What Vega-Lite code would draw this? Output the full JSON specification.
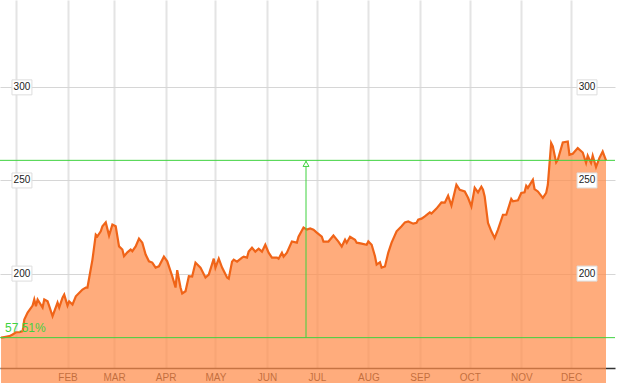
{
  "$schema": "https://vega.github.io/schema/vega-lite/v6.json",
  "width": 615,
  "height": 368,
  "autosize": "none",
  "padding": {"left": 0, "top": 0, "right": 8, "bottom": 15},
  "background": "white",
  "config": {"view": {"stroke": null}, "font": "Liberation Sans"},
  "datasets": {
    "prices": [
      {"date": "2012-12-23", "price": 165.6},
      {"date": "2012-12-25", "price": 165.9},
      {"date": "2012-12-28", "price": 166.4},
      {"date": "2012-12-30", "price": 167.3},
      {"date": "2013-01-01", "price": 168.5},
      {"date": "2013-01-03", "price": 168.5},
      {"date": "2013-01-05", "price": 169.1},
      {"date": "2013-01-06", "price": 175.3},
      {"date": "2013-01-08", "price": 179.1},
      {"date": "2013-01-11", "price": 182.8},
      {"date": "2013-01-12", "price": 186.1},
      {"date": "2013-01-13", "price": 182.5},
      {"date": "2013-01-14", "price": 186.1},
      {"date": "2013-01-17", "price": 181.8},
      {"date": "2013-01-18", "price": 186.1},
      {"date": "2013-01-20", "price": 185.1},
      {"date": "2013-01-21", "price": 182.5},
      {"date": "2013-01-23", "price": 177.1},
      {"date": "2013-01-26", "price": 184.4},
      {"date": "2013-01-27", "price": 181.8},
      {"date": "2013-01-29", "price": 187.1},
      {"date": "2013-01-30", "price": 188.7},
      {"date": "2013-02-01", "price": 182.8},
      {"date": "2013-02-02", "price": 185.1},
      {"date": "2013-02-04", "price": 183.4},
      {"date": "2013-02-06", "price": 187.8},
      {"date": "2013-02-09", "price": 190.5},
      {"date": "2013-02-10", "price": 191.4},
      {"date": "2013-02-12", "price": 192.5},
      {"date": "2013-02-13", "price": 192.5},
      {"date": "2013-02-16", "price": 207.5},
      {"date": "2013-02-18", "price": 220.9},
      {"date": "2013-02-19", "price": 220.0},
      {"date": "2013-02-21", "price": 222.7},
      {"date": "2013-02-22", "price": 225.4},
      {"date": "2013-02-24", "price": 227.5},
      {"date": "2013-02-26", "price": 220.4},
      {"date": "2013-02-28", "price": 226.3},
      {"date": "2013-03-02", "price": 225.4},
      {"date": "2013-03-04", "price": 214.6},
      {"date": "2013-03-06", "price": 212.9},
      {"date": "2013-03-07", "price": 209.3},
      {"date": "2013-03-09", "price": 211.4},
      {"date": "2013-03-11", "price": 212.9},
      {"date": "2013-03-12", "price": 212.0},
      {"date": "2013-03-14", "price": 214.6},
      {"date": "2013-03-16", "price": 218.8},
      {"date": "2013-03-18", "price": 216.6},
      {"date": "2013-03-20", "price": 210.2},
      {"date": "2013-03-22", "price": 206.6},
      {"date": "2013-03-24", "price": 205.9},
      {"date": "2013-03-26", "price": 203.2},
      {"date": "2013-03-28", "price": 203.9},
      {"date": "2013-03-31", "price": 209.1},
      {"date": "2013-04-02", "price": 206.6},
      {"date": "2013-04-05", "price": 198.6},
      {"date": "2013-04-07", "price": 192.5},
      {"date": "2013-04-08", "price": 201.8},
      {"date": "2013-04-10", "price": 192.5},
      {"date": "2013-04-11", "price": 189.3},
      {"date": "2013-04-13", "price": 190.5},
      {"date": "2013-04-15", "price": 198.6},
      {"date": "2013-04-17", "price": 198.4},
      {"date": "2013-04-19", "price": 205.9},
      {"date": "2013-04-22", "price": 203.2},
      {"date": "2013-04-25", "price": 197.9},
      {"date": "2013-04-27", "price": 199.5},
      {"date": "2013-04-30", "price": 208.0},
      {"date": "2013-05-01", "price": 203.2},
      {"date": "2013-05-03", "price": 208.0},
      {"date": "2013-05-05", "price": 203.2},
      {"date": "2013-05-08", "price": 197.9},
      {"date": "2013-05-09", "price": 197.3},
      {"date": "2013-05-11", "price": 206.4},
      {"date": "2013-05-12", "price": 207.5},
      {"date": "2013-05-14", "price": 206.4},
      {"date": "2013-05-17", "price": 208.6},
      {"date": "2013-05-18", "price": 209.1},
      {"date": "2013-05-20", "price": 208.6},
      {"date": "2013-05-21", "price": 211.8},
      {"date": "2013-05-23", "price": 213.9},
      {"date": "2013-05-25", "price": 211.8},
      {"date": "2013-05-27", "price": 213.4},
      {"date": "2013-05-29", "price": 211.8},
      {"date": "2013-05-31", "price": 215.5},
      {"date": "2013-06-02", "price": 211.2},
      {"date": "2013-06-04", "price": 208.6},
      {"date": "2013-06-07", "price": 208.6},
      {"date": "2013-06-08", "price": 208.0},
      {"date": "2013-06-10", "price": 211.2},
      {"date": "2013-06-11", "price": 209.1},
      {"date": "2013-06-13", "price": 211.2},
      {"date": "2013-06-16", "price": 217.2},
      {"date": "2013-06-19", "price": 216.6},
      {"date": "2013-06-20", "price": 219.8},
      {"date": "2013-06-23", "price": 224.7},
      {"date": "2013-06-25", "price": 223.6},
      {"date": "2013-06-27", "price": 224.2},
      {"date": "2013-06-29", "price": 223.6},
      {"date": "2013-07-01", "price": 222.0},
      {"date": "2013-07-04", "price": 219.8},
      {"date": "2013-07-05", "price": 217.2},
      {"date": "2013-07-08", "price": 217.2},
      {"date": "2013-07-11", "price": 220.4},
      {"date": "2013-07-14", "price": 217.2},
      {"date": "2013-07-16", "price": 214.5},
      {"date": "2013-07-18", "price": 218.2},
      {"date": "2013-07-19", "price": 216.6},
      {"date": "2013-07-21", "price": 219.8},
      {"date": "2013-07-24", "price": 218.2},
      {"date": "2013-07-25", "price": 216.6},
      {"date": "2013-07-28", "price": 216.1},
      {"date": "2013-07-31", "price": 215.5},
      {"date": "2013-08-01", "price": 217.3},
      {"date": "2013-08-03", "price": 215.5},
      {"date": "2013-08-05", "price": 209.3},
      {"date": "2013-08-06", "price": 204.8},
      {"date": "2013-08-08", "price": 206.1},
      {"date": "2013-08-09", "price": 203.2},
      {"date": "2013-08-11", "price": 203.8},
      {"date": "2013-08-13", "price": 211.3},
      {"date": "2013-08-15", "price": 216.6},
      {"date": "2013-08-18", "price": 222.7},
      {"date": "2013-08-21", "price": 225.4},
      {"date": "2013-08-23", "price": 227.5},
      {"date": "2013-08-25", "price": 228.0},
      {"date": "2013-08-28", "price": 226.8},
      {"date": "2013-08-30", "price": 227.3},
      {"date": "2013-08-31", "price": 228.9},
      {"date": "2013-09-02", "price": 229.5},
      {"date": "2013-09-04", "price": 230.7},
      {"date": "2013-09-07", "price": 232.9},
      {"date": "2013-09-08", "price": 232.2},
      {"date": "2013-09-11", "price": 234.9},
      {"date": "2013-09-14", "price": 238.2},
      {"date": "2013-09-16", "price": 238.1},
      {"date": "2013-09-18", "price": 241.8},
      {"date": "2013-09-20", "price": 236.5},
      {"date": "2013-09-23", "price": 247.7},
      {"date": "2013-09-25", "price": 245.0},
      {"date": "2013-09-28", "price": 244.1},
      {"date": "2013-09-30", "price": 240.7},
      {"date": "2013-10-02", "price": 236.1},
      {"date": "2013-10-04", "price": 246.1},
      {"date": "2013-10-06", "price": 243.6},
      {"date": "2013-10-08", "price": 246.6},
      {"date": "2013-10-09", "price": 245.0},
      {"date": "2013-10-10", "price": 241.4},
      {"date": "2013-10-12", "price": 227.2},
      {"date": "2013-10-14", "price": 222.7},
      {"date": "2013-10-16", "price": 219.1},
      {"date": "2013-10-18", "price": 223.6},
      {"date": "2013-10-21", "price": 231.6},
      {"date": "2013-10-23", "price": 231.6},
      {"date": "2013-10-26", "price": 240.1},
      {"date": "2013-10-27", "price": 238.8},
      {"date": "2013-10-30", "price": 239.3},
      {"date": "2013-11-01", "price": 243.3},
      {"date": "2013-11-03", "price": 243.6},
      {"date": "2013-11-04", "price": 247.2},
      {"date": "2013-11-05", "price": 246.0},
      {"date": "2013-11-08", "price": 250.4},
      {"date": "2013-11-09", "price": 245.4},
      {"date": "2013-11-11", "price": 244.1},
      {"date": "2013-11-14", "price": 240.6},
      {"date": "2013-11-16", "price": 243.3},
      {"date": "2013-11-17", "price": 247.7},
      {"date": "2013-11-19", "price": 270.1},
      {"date": "2013-11-20", "price": 268.3},
      {"date": "2013-11-22", "price": 259.7},
      {"date": "2013-11-23", "price": 261.1},
      {"date": "2013-11-26", "price": 270.4},
      {"date": "2013-11-29", "price": 270.9},
      {"date": "2013-11-30", "price": 263.8},
      {"date": "2013-12-02", "price": 264.3},
      {"date": "2013-12-05", "price": 267.4},
      {"date": "2013-12-08", "price": 265.0},
      {"date": "2013-12-10", "price": 259.4},
      {"date": "2013-12-11", "price": 263.3},
      {"date": "2013-12-13", "price": 259.4},
      {"date": "2013-12-14", "price": 263.3},
      {"date": "2013-12-16", "price": 257.2},
      {"date": "2013-12-18", "price": 262.0},
      {"date": "2013-12-20", "price": 265.6},
      {"date": "2013-12-22", "price": 260.8}
    ],
    "levels": [{"level": 165.6}, {"level": 260.8}],
    "ticks": [{"tick": 200}, {"tick": 250}, {"tick": 300}]
  },
  "layer": [
    {
      "data": {"name": "prices"},
      "mark": {"type": "area", "color": "#ff8c4a", "opacity": 0.72},
      "encoding": {
        "x": {
          "field": "date", "type": "temporal", "title": null,
          "scale": {"type": "utc", "domain": [
            {"year": 2012, "month": 12, "date": 22, "hours": 9, "utc": true},
            {"year": 2013, "month": 12, "date": 27, "hours": 10, "utc": true}
          ]},
          "axis": {
            "values": [
              {"year": 2013, "month": 1, "date": 1, "utc": true},
              {"year": 2013, "month": 2, "date": 1, "utc": true},
              {"year": 2013, "month": 3, "date": 1, "utc": true},
              {"year": 2013, "month": 4, "date": 1, "utc": true},
              {"year": 2013, "month": 5, "date": 1, "utc": true},
              {"year": 2013, "month": 6, "date": 1, "utc": true},
              {"year": 2013, "month": 7, "date": 1, "utc": true},
              {"year": 2013, "month": 8, "date": 1, "utc": true},
              {"year": 2013, "month": 9, "date": 1, "utc": true},
              {"year": 2013, "month": 10, "date": 1, "utc": true},
              {"year": 2013, "month": 11, "date": 1, "utc": true},
              {"year": 2013, "month": 12, "date": 1, "utc": true}
            ],
            "labelExpr": "utcmonth(datum.value) == 0 ? '' : upper(utcFormat(datum.value, '%b'))",
            "labelFontSize": 10,
            "labelColor": "#222222",
            "labelPadding": 4,
            "labelFlush": false,
            "ticks": false,
            "domainColor": "#333333",
            "domainWidth": 1.5,
            "grid": true,
            "gridColor": "#e4e4e4",
            "gridWidth": 2
          }
        },
        "y": {
          "field": "price", "type": "quantitative", "title": null,
          "scale": {"domain": [149.3, 346.9], "nice": false, "zero": false},
          "axis": {
            "values": [200, 250, 300],
            "labels": false,
            "ticks": false,
            "domain": false,
            "grid": true,
            "gridColor": "#d6d6d6",
            "gridWidth": 1
          }
        }
      }
    },
    {
      "data": {"name": "prices"},
      "mark": {"type": "line", "color": "#f06418", "strokeWidth": 2.2},
      "encoding": {
        "x": {"field": "date", "type": "temporal", "title": null},
        "y": {"field": "price", "type": "quantitative", "title": null}
      }
    },
    {
      "data": {"name": "levels"},
      "mark": {"type": "rule", "color": "#3fd23f", "strokeWidth": 1},
      "encoding": {
        "y": {"field": "level", "type": "quantitative", "title": null}
      }
    },
    {
      "data": {"values": [{"from": 165.6, "to": 260.8}]},
      "mark": {"type": "rule", "color": "#3fd23f", "strokeWidth": 1},
      "encoding": {
        "x": {"datum": {"year": 2013, "month": 6, "date": 24, "hours": 12, "utc": true}, "type": "temporal"},
        "y": {"field": "from", "type": "quantitative", "title": null},
        "y2": {"field": "to"}
      }
    },
    {
      "data": {"values": [{"arrow": 258.9}]},
      "mark": {"type": "point", "shape": "triangle-up", "size": 35, "filled": true, "fill": "white", "stroke": "#3fd23f", "strokeWidth": 1, "opacity": 1},
      "encoding": {
        "x": {"datum": {"year": 2013, "month": 6, "date": 24, "hours": 12, "utc": true}, "type": "temporal"},
        "y": {"field": "arrow", "type": "quantitative", "title": null}
      }
    },
    {
      "data": {"values": [{"label": "57.51%", "pos": 168.7}]},
      "mark": {"type": "text", "align": "left", "baseline": "alphabetic", "fontSize": 12, "color": "#3fd23f"},
      "encoding": {
        "x": {"datum": {"year": 2012, "month": 12, "date": 25, "hours": 9, "utc": true}, "type": "temporal"},
        "y": {"field": "pos", "type": "quantitative", "title": null},
        "text": {"field": "label"}
      }
    },
    {
      "data": {"name": "ticks"},
      "mark": {"type": "point", "shape": "M-1.33,-1H1.33V1H-1.33Z", "size": 225, "filled": true, "fill": "white", "stroke": "#dddddd", "strokeWidth": 1, "opacity": 1},
      "encoding": {
        "x": {"datum": {"year": 2013, "month": 1, "date": 4, "hours": 14, "utc": true}, "type": "temporal"},
        "y": {"field": "tick", "type": "quantitative", "title": null}
      }
    },
    {
      "data": {"name": "ticks"},
      "mark": {"type": "text", "fontSize": 10, "color": "#222222", "align": "center", "baseline": "middle"},
      "encoding": {
        "x": {"datum": {"year": 2013, "month": 1, "date": 4, "hours": 14, "utc": true}, "type": "temporal"},
        "y": {"field": "tick", "type": "quantitative", "title": null},
        "text": {"field": "tick"}
      }
    },
    {
      "data": {"name": "ticks"},
      "mark": {"type": "point", "shape": "M-1.33,-1H1.33V1H-1.33Z", "size": 225, "filled": true, "fill": "white", "stroke": "#dddddd", "strokeWidth": 1, "opacity": 1},
      "encoding": {
        "x": {"datum": {"year": 2013, "month": 12, "date": 10, "hours": 14, "utc": true}, "type": "temporal"},
        "y": {"field": "tick", "type": "quantitative", "title": null}
      }
    },
    {
      "data": {"name": "ticks"},
      "mark": {"type": "text", "fontSize": 10, "color": "#222222", "align": "center", "baseline": "middle"},
      "encoding": {
        "x": {"datum": {"year": 2013, "month": 12, "date": 10, "hours": 14, "utc": true}, "type": "temporal"},
        "y": {"field": "tick", "type": "quantitative", "title": null},
        "text": {"field": "tick"}
      }
    }
  ]
}
